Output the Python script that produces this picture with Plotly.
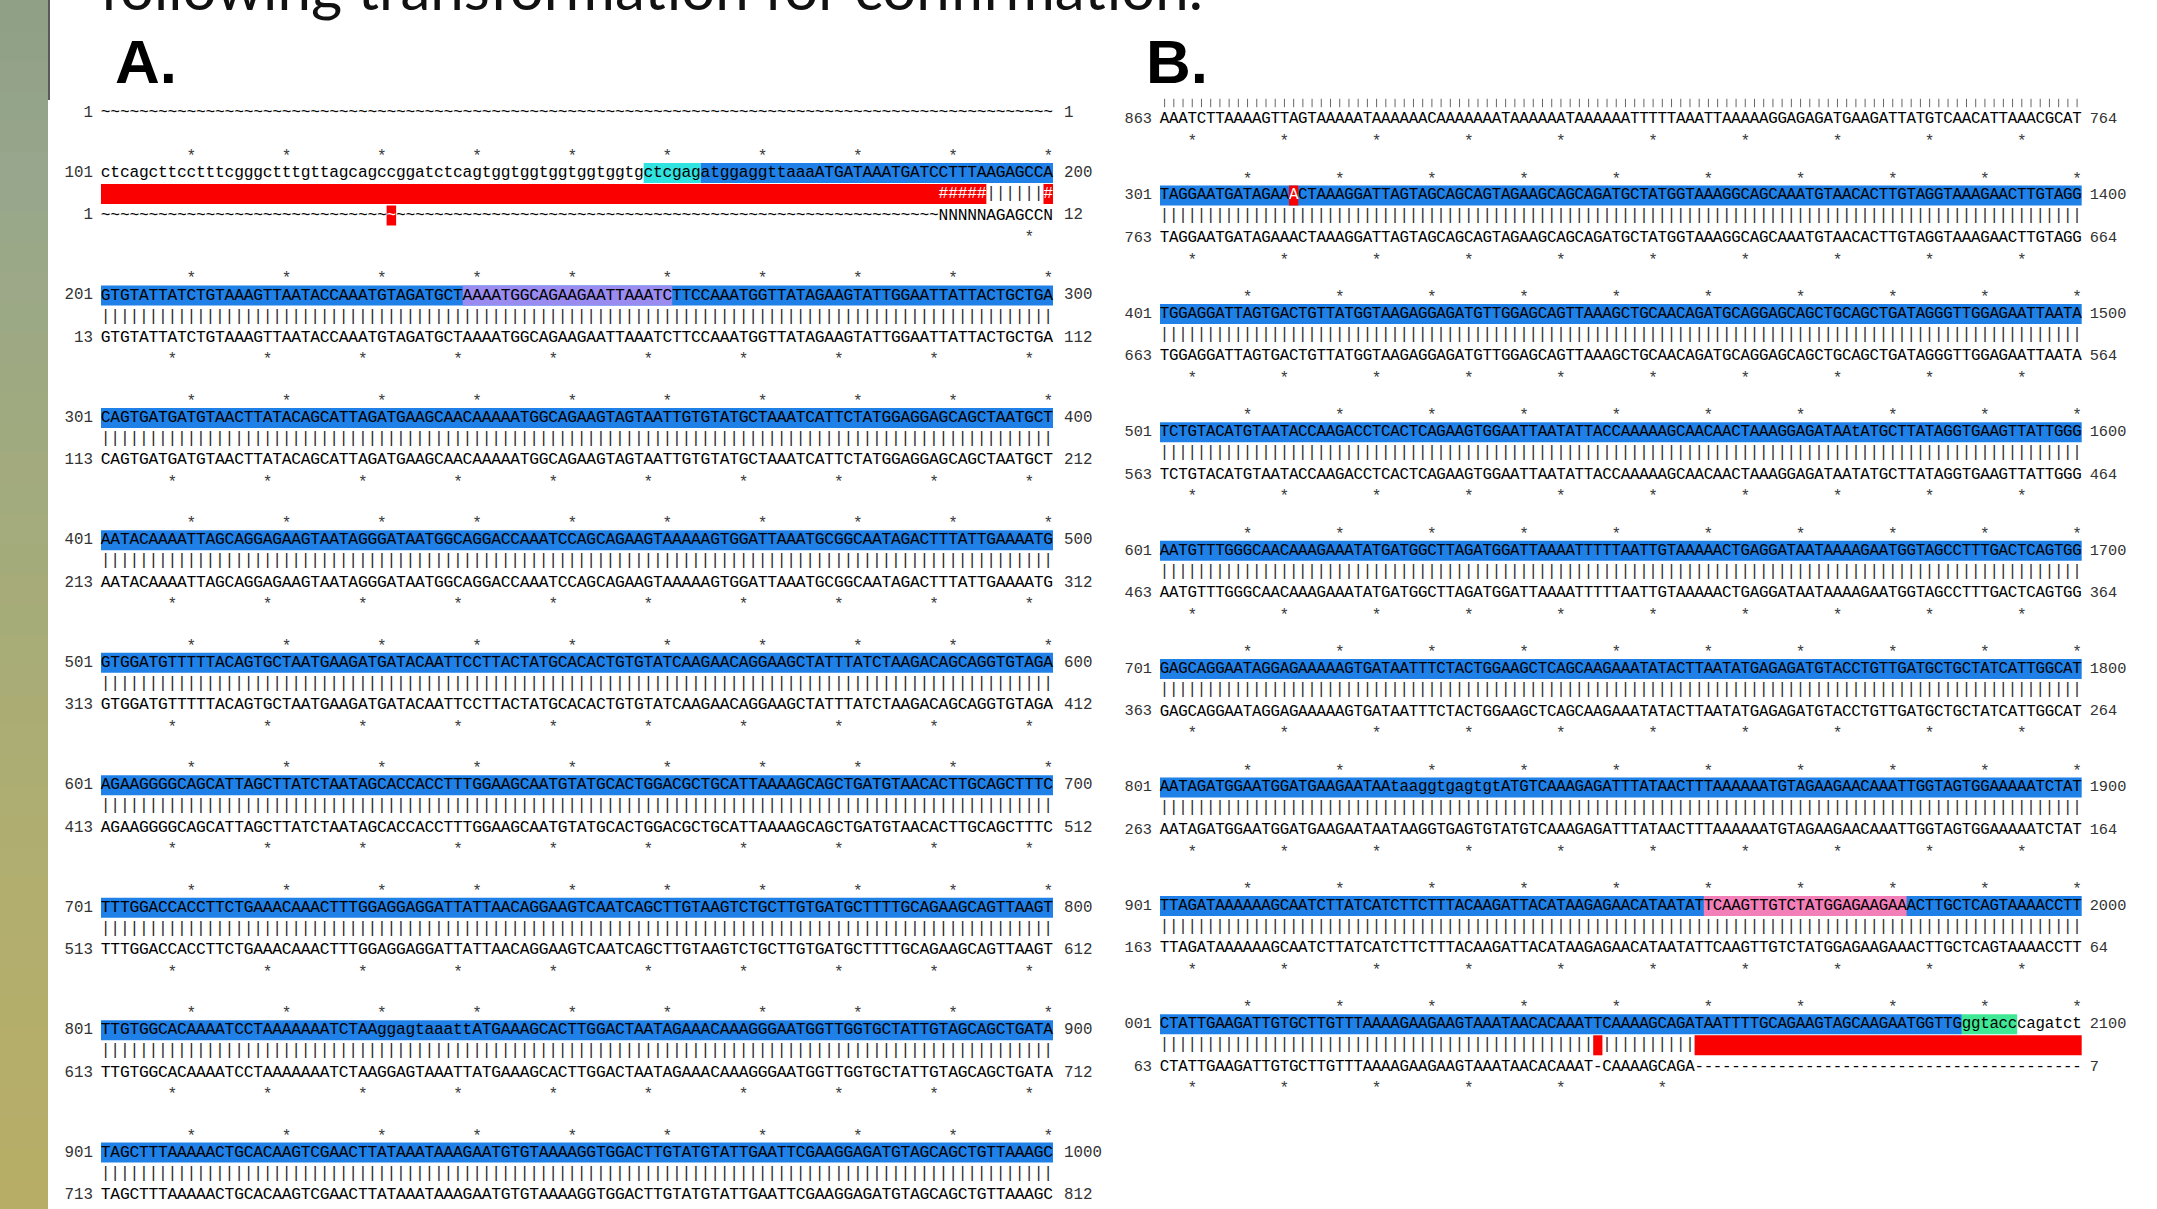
import plotly.graph_objects as go

W, H = 2157, 1209

# ====================== DATA ======================
# ---- Panel A ----
A_TOP_LABEL = ["1", "101", "201", "301", "401", "501", "601", "701", "801", "901"]
A_TOP_END = ["1", "200", "300", "400", "500", "600", "700", "800", "900", "1000"]
A_TOP_START = [1, 101, 201, 301, 401, 501, 601, 701, 801, 901]
A_TOP_SEQ = [
    "~" * 100,
    "ctcagcttcctttcgggctttgttagcagccggatctcagtggtggtggtggtggtgctcgagatggaggttaaaATGATAAATGATCCTTTAAGAGCCA",
    "GTGTATTATCTGTAAAGTTAATACCAAATGTAGATGCTAAAATGGCAGAAGAATTAAATCTTCCAAATGGTTATAGAAGTATTGGAATTATTACTGCTGA",
    "CAGTGATGATGTAACTTATACAGCATTAGATGAAGCAACAAAAATGGCAGAAGTAGTAATTGTGTATGCTAAATCATTCTATGGAGGAGCAGCTAATGCT",
    "AATACAAAATTAGCAGGAGAAGTAATAGGGATAATGGCAGGACCAAATCCAGCAGAAGTAAAAAGTGGATTAAATGCGGCAATAGACTTTATTGAAAATG",
    "GTGGATGTTTTTACAGTGCTAATGAAGATGATACAATTCCTTACTATGCACACTGTGTATCAAGAACAGGAAGCTATTTATCTAAGACAGCAGGTGTAGA",
    "AGAAGGGGCAGCATTAGCTTATCTAATAGCACCACCTTTGGAAGCAATGTATGCACTGGACGCTGCATTAAAAGCAGCTGATGTAACACTTGCAGCTTTC",
    "TTTGGACCACCTTCTGAAACAAACTTTGGAGGAGGATTATTAACAGGAAGTCAATCAGCTTGTAAGTCTGCTTGTGATGCTTTTGCAGAAGCAGTTAAGT",
    "TTGTGGCACAAAATCCTAAAAAAATCTAAggagtaaattATGAAAGCACTTGGACTAATAGAAACAAAGGGAATGGTTGGTGCTATTGTAGCAGCTGATA",
    "TAGCTTTAAAAACTGCACAAGTCGAACTTATAAATAAAGAATGTGTAAAAGGTGGACTTGTATGTATTGAATTCGAAGGAGATGTAGCAGCTGTTAAAGC",
]
A_BOT_LABEL = [None, "1", "13", "113", "213", "313", "413", "513", "613", "713"]
A_BOT_END = [None, "12", "112", "212", "312", "412", "512", "612", "712", "812"]
A_BOT_START = [None, 1, 13, 113, 213, 313, 413, 513, 613, 713]
A_BOT_SEQ = [
    None,
    "~" * 88 + "NNNNNAGAGCCN",
    "GTGTATTATCTGTAAAGTTAATACCAAATGTAGATGCTAAAATGGCAGAAGAATTAAATCTTCCAAATGGTTATAGAAGTATTGGAATTATTACTGCTGA",
    "CAGTGATGATGTAACTTATACAGCATTAGATGAAGCAACAAAAATGGCAGAAGTAGTAATTGTGTATGCTAAATCATTCTATGGAGGAGCAGCTAATGCT",
    "AATACAAAATTAGCAGGAGAAGTAATAGGGATAATGGCAGGACCAAATCCAGCAGAAGTAAAAAGTGGATTAAATGCGGCAATAGACTTTATTGAAAATG",
    "GTGGATGTTTTTACAGTGCTAATGAAGATGATACAATTCCTTACTATGCACACTGTGTATCAAGAACAGGAAGCTATTTATCTAAGACAGCAGGTGTAGA",
    "AGAAGGGGCAGCATTAGCTTATCTAATAGCACCACCTTTGGAAGCAATGTATGCACTGGACGCTGCATTAAAAGCAGCTGATGTAACACTTGCAGCTTTC",
    "TTTGGACCACCTTCTGAAACAAACTTTGGAGGAGGATTATTAACAGGAAGTCAATCAGCTTGTAAGTCTGCTTGTGATGCTTTTGCAGAAGCAGTTAAGT",
    "TTGTGGCACAAAATCCTAAAAAAATCTAAGGAGTAAATTATGAAAGCACTTGGACTAATAGAAACAAAGGGAATGGTTGGTGCTATTGTAGCAGCTGATA",
    "TAGCTTTAAAAACTGCACAAGTCGAACTTATAAATAAAGAATGTGTAAAAGGTGGACTTGTATGTATTGAATTCGAAGGAGATGTAGCAGCTGTTAAAGC",
]
A_BOT_STEP = 1
# highlights: (block, first col, last col, colour key)
A_HIGHLIGHTS = [
    (1, 57, 62, "cyan"), (1, 63, 99, "blue"),
    (2, 0, 99, "blue"), (2, 38, 59, "lavender"),
    (3, 0, 99, "blue"), (4, 0, 99, "blue"), (5, 0, 99, "blue"),
    (6, 0, 99, "blue"), (7, 0, 99, "blue"), (8, 0, 99, "blue"), (9, 0, 99, "blue"),
]
A_TOP_MARKS = []
A_BOT_MARKS = [(1, 30)]

# ---- Panel B ----
B_PRE_LABEL, B_PRE_END, B_PRE_START = "863", "764", 863
B_PRE_SEQ = "AAATCTTAAAAGTTAGTAAAAATAAAAAACAAAAAAATAAAAAATAAAAAATTTTTAAATTAAAAAGGAGAGATGAAGATTATGTCAACATTAAACGCAT"
B_TOP_LABEL = ["301", "401", "501", "601", "701", "801", "901", "001"]
B_TOP_END = ["1400", "1500", "1600", "1700", "1800", "1900", "2000", "2100"]
B_TOP_START = [1301, 1401, 1501, 1601, 1701, 1801, 1901, 2001]
B_TOP_SEQ = [
    "TAGGAATGATAGAAACTAAAGGATTAGTAGCAGCAGTAGAAGCAGCAGATGCTATGGTAAAGGCAGCAAATGTAACACTTGTAGGTAAAGAACTTGTAGG",
    "TGGAGGATTAGTGACTGTTATGGTAAGAGGAGATGTTGGAGCAGTTAAAGCTGCAACAGATGCAGGAGCAGCTGCAGCTGATAGGGTTGGAGAATTAATA",
    "TCTGTACATGTAATACCAAGACCTCACTCAGAAGTGGAATTAATATTACCAAAAAGCAACAACTAAAGGAGATAAtATGCTTATAGGTGAAGTTATTGGG",
    "AATGTTTGGGCAACAAAGAAATATGATGGCTTAGATGGATTAAAATTTTTAATTGTAAAAACTGAGGATAATAAAAGAATGGTAGCCTTTGACTCAGTGG",
    "GAGCAGGAATAGGAGAAAAAGTGATAATTTCTACTGGAAGCTCAGCAAGAAATATACTTAATATGAGAGATGTACCTGTTGATGCTGCTATCATTGGCAT",
    "AATAGATGGAATGGATGAAGAATAAtaaggtgagtgtATGTCAAAGAGATTTATAACTTTAAAAAATGTAGAAGAACAAATTGGTAGTGGAAAAATCTAT",
    "TTAGATAAAAAAGCAATCTTATCATCTTCTTTACAAGATTACATAAGAGAACATAATATTCAAGTTGTCTATGGAGAAGAAACTTGCTCAGTAAAACCTT",
    "CTATTGAAGATTGTGCTTGTTTAAAAGAAGAAGTAAATAACACAAATTCAAAAGCAGATAATTTTGCAGAAGTAGCAAGAATGGTTGggtacccagatct",
]
B_BOT_LABEL = ["763", "663", "563", "463", "363", "263", "163", "63"]
B_BOT_END = ["664", "564", "464", "364", "264", "164", "64", "7"]
B_BOT_START = [763, 663, 563, 463, 363, 263, 163, 63]
B_BOT_SEQ = [
    "TAGGAATGATAGAAACTAAAGGATTAGTAGCAGCAGTAGAAGCAGCAGATGCTATGGTAAAGGCAGCAAATGTAACACTTGTAGGTAAAGAACTTGTAGG",
    "TGGAGGATTAGTGACTGTTATGGTAAGAGGAGATGTTGGAGCAGTTAAAGCTGCAACAGATGCAGGAGCAGCTGCAGCTGATAGGGTTGGAGAATTAATA",
    "TCTGTACATGTAATACCAAGACCTCACTCAGAAGTGGAATTAATATTACCAAAAAGCAACAACTAAAGGAGATAATATGCTTATAGGTGAAGTTATTGGG",
    "AATGTTTGGGCAACAAAGAAATATGATGGCTTAGATGGATTAAAATTTTTAATTGTAAAAACTGAGGATAATAAAAGAATGGTAGCCTTTGACTCAGTGG",
    "GAGCAGGAATAGGAGAAAAAGTGATAATTTCTACTGGAAGCTCAGCAAGAAATATACTTAATATGAGAGATGTACCTGTTGATGCTGCTATCATTGGCAT",
    "AATAGATGGAATGGATGAAGAATAATAAGGTGAGTGTATGTCAAAGAGATTTATAACTTTAAAAAATGTAGAAGAACAAATTGGTAGTGGAAAAATCTAT",
    "TTAGATAAAAAAGCAATCTTATCATCTTCTTTACAAGATTACATAAGAGAACATAATATTCAAGTTGTCTATGGAGAAGAAACTTGCTCAGTAAAACCTT",
    "CTATTGAAGATTGTGCTTGTTTAAAAGAAGAAGTAAATAACACAAAT-CAAAAGCAGA" + "-" * 42,
]
B_BOT_STEP = -1
B_HIGHLIGHTS = [
    (0, 0, 99, "blue"), (1, 0, 99, "blue"), (2, 0, 99, "blue"), (3, 0, 99, "blue"),
    (4, 0, 99, "blue"), (5, 0, 99, "blue"), (6, 0, 99, "blue"), (6, 59, 80, "pink"),
    (7, 0, 86, "blue"), (7, 87, 92, "green"),
]
B_TOP_MARKS = [(0, 14)]
B_BOT_MARKS = []

# ====================== STYLE / LAYOUT ======================
COLORS = {"blue": "#1f80e8", "cyan": "#30e3e0", "lavender": "#9a8bf0",
          "pink": "#f27fb8", "green": "#3fe894", "red": "#fa0000"}
MONO = "Liberation Mono"
GAPS = "~-"

A_X0, A_X1 = 101.0, 1053.0
B_X0, B_X1 = 1160.0, 2081.7
A_Y = [113.0] + [173.0 + 122.45 * k for k in range(9)]
B_PRE_Y = 119.0
B_Y = [195.5 + 118.4 * k for k in range(8)]
OFF_STAR_TOP, OFF_PIPE, OFF_BOT, OFF_STAR_BOT = -22.0, 21.0, 42.5, 59.0
HALF = 10.0
PADC = 5.5  # extra columns on each side of the axis range (room for the position numbers)

fig = go.Figure()
shapes = []


def star_cols(seq, start, step):
    out, n = [], start
    for i, ch in enumerate(seq):
        if ch in GAPS:
            continue
        if n % 10 == 0:
            out.append(i)
        n += step
    return out


def rect(xa, c0, c1, yc, color):
    shapes.append(dict(type="rect", xref=xa, yref="y", x0=c0 - 0.5, x1=c1 + 0.5,
                       y0=yc - HALF, y1=yc + HALF, fillcolor=color,
                       line=dict(width=0), layer="below"))


def build_panel(xa, x0px, x1px, fs, ys, top_label, top_end, top_start, top_seq,
                bot_label, bot_end, bot_start, bot_seq, bot_step,
                highlights, top_marks, bot_marks, gap_r, pre=None):
    cw = (x1px - x0px) / 100.0
    seq_x, seq_y, seq_t, seq_c = [], [], [], []
    pip_x, pip_y, pip_t, pip_c = [], [], [], []
    st_x, st_y = [], []
    ll_x, ll_y, ll_t, rl_x, rl_y, rl_t = [], [], [], [], [], []
    lx = -0.5 - 8.0 / cw
    rx = 99.5 + gap_r / cw

    for (b, c0, c1, key) in highlights:
        rect(xa, c0, c1, ys[b], COLORS[key])

    def add_row(seq, yc, label, end, marks_cols):
        for i, ch in enumerate(seq):
            seq_x.append(i)
            seq_y.append(yc)
            seq_t.append(ch)
            seq_c.append("#ffffff" if i in marks_cols else "#000000")
        for i in marks_cols:
            rect(xa, i, i, yc, COLORS["red"])
        ll_x.append(lx); ll_y.append(yc); ll_t.append(label)
        rl_x.append(rx); rl_y.append(yc); rl_t.append(end)

    if pre is not None:
        p_label, p_end, p_start, p_seq, p_y = pre
        add_row(p_seq, p_y, p_label, p_end, [])
        for i in star_cols(p_seq, p_start, bot_step):
            st_x.append(i); st_y.append(p_y + OFF_STAR_BOT - OFF_BOT)
        # cropped match row of the previous block
        fig.add_trace(go.Scatter(x=list(range(100)), y=[p_y - 16] * 100, mode="markers",
                                 marker=dict(symbol="line-ns", size=6,
                                             line=dict(width=1, color="#666666")),
                                 xaxis=xa, yaxis="y", hoverinfo="skip", cliponaxis=False))

    for k in range(len(top_seq)):
        yt = ys[k]
        tmarks = [c for (b, c) in top_marks if b == k]
        add_row(top_seq[k], yt, top_label[k], top_end[k], tmarks)
        for i in star_cols(top_seq[k], top_start[k], 1):
            st_x.append(i); st_y.append(yt + OFF_STAR_TOP)
        if bot_seq[k] is None:
            continue
        yb = yt + OFF_BOT
        bmarks = [c for (b, c) in bot_marks if b == k]
        add_row(bot_seq[k], yb, bot_label[k], bot_end[k], bmarks)
        for i in star_cols(bot_seq[k], bot_start[k], bot_step):
            st_x.append(i); st_y.append(yt + OFF_STAR_BOT)
        # match row
        yp = yt + OFF_PIPE
        red = []
        for i, (a, c) in enumerate(zip(top_seq[k], bot_seq[k])):
            if a in GAPS or c in GAPS:
                red.append(i)
            elif a.upper() == c.upper():
                pip_x.append(i); pip_y.append(yp); pip_t.append("|"); pip_c.append("#2a2a2a")
            else:
                red.append(i)
                pip_x.append(i); pip_y.append(yp); pip_t.append("#"); pip_c.append("#ffffff")
        run = []
        for i in red + [None]:
            if run and (i is None or i != run[-1] + 1):
                rect(xa, run[0], run[-1], yp, COLORS["red"])
                run = []
            if i is not None:
                run.append(i)

    common = dict(xaxis=xa, yaxis="y", hoverinfo="skip", cliponaxis=False, mode="text")
    fig.add_trace(go.Scatter(x=seq_x, y=seq_y, text=seq_t, textposition="middle center",
                             textfont=dict(family=MONO, size=fs, color=seq_c), **common))
    fig.add_trace(go.Scatter(x=pip_x, y=pip_y, text=pip_t, textposition="middle center",
                             textfont=dict(family=MONO, size=fs, color=pip_c), **common))
    fig.add_trace(go.Scatter(x=st_x, y=[v + 6 for v in st_y], text=["*"] * len(st_x),
                             textposition="middle center",
                             textfont=dict(family=MONO, size=16, color="#3a3a3a"), **common))
    fig.add_trace(go.Scatter(x=ll_x, y=ll_y, text=ll_t, textposition="middle left",
                             textfont=dict(family=MONO, size=fs - 0.5, color="#333333"), **common))
    fig.add_trace(go.Scatter(x=rl_x, y=rl_y, text=rl_t, textposition="middle right",
                             textfont=dict(family=MONO, size=fs - 0.5, color="#333333"), **common))
    # axis: range widened by PADC columns each side, domain widened by the same amount
    return dict(domain=[(x0px - PADC * cw) / W, (x1px + PADC * cw) / W],
                range=[-0.5 - PADC, 99.5 + PADC], visible=False, fixedrange=True, anchor="y")


xa1 = build_panel("x", A_X0, A_X1, 16.3, A_Y, A_TOP_LABEL, A_TOP_END, A_TOP_START, A_TOP_SEQ,
                  A_BOT_LABEL, A_BOT_END, A_BOT_START, A_BOT_SEQ, A_BOT_STEP,
                  A_HIGHLIGHTS, A_TOP_MARKS, A_BOT_MARKS, gap_r=11.0)
xa2 = build_panel("x2", B_X0, B_X1, 15.8, B_Y, B_TOP_LABEL, B_TOP_END, B_TOP_START, B_TOP_SEQ,
                  B_BOT_LABEL, B_BOT_END, B_BOT_START, B_BOT_SEQ, B_BOT_STEP,
                  B_HIGHLIGHTS, B_TOP_MARKS, B_BOT_MARKS, gap_r=8.0,
                  pre=(B_PRE_LABEL, B_PRE_END, B_PRE_START, B_PRE_SEQ, B_PRE_Y))

# ---- left decorative strip (gradient bands) ----
STRIP_STOPS = [(0.0, (143, 159, 134)), (0.15, (152, 167, 140)), (0.35, (160, 170, 128)),
               (0.55, (168, 172, 118)), (0.75, (178, 174, 110)), (1.0, (183, 173, 102))]
NB = 40
for j in range(NB):
    f = (j + 0.5) / NB
    for (a, ca), (b, cb) in zip(STRIP_STOPS[:-1], STRIP_STOPS[1:]):
        if a <= f <= b:
            t = (f - a) / (b - a)
            col = tuple(int(round(ca[m] + (cb[m] - ca[m]) * t)) for m in range(3))
            break
    shapes.append(dict(type="rect", xref="paper", yref="paper", x0=0, x1=48 / W,
                       y0=1 - (j + 1) / NB - 0.001, y1=1 - j / NB,
                       fillcolor="rgb(%d,%d,%d)" % col, line=dict(width=0), layer="below"))
shapes.append(dict(type="line", xref="paper", yref="paper", x0=49 / W, x1=49 / W,
                   y0=1 - 100 / H, y1=1, line=dict(color="#5a5a5a", width=2)))

annotations = [
    dict(text="following transformation for confirmation.", xref="paper", yref="paper",
         x=98 / W, y=1 + 13 / H, xanchor="left", yanchor="middle", showarrow=False,
         font=dict(family="Lato", size=60, color="#111111")),
    dict(text="<b>A.</b>", xref="paper", yref="paper", x=113 / W, y=1 - 61 / H,
         xanchor="left", yanchor="middle", showarrow=False,
         font=dict(family="Liberation Sans", size=62, color="#000000")),
    dict(text="<b>B.</b>", xref="paper", yref="paper", x=1144 / W, y=1 - 61 / H,
         xanchor="left", yanchor="middle", showarrow=False,
         font=dict(family="Liberation Sans", size=62, color="#000000")),
]

fig.update_layout(
    width=W, height=H, autosize=False,
    margin=dict(l=0, r=0, t=0, b=0, pad=0),
    paper_bgcolor="#ffffff", plot_bgcolor="rgba(0,0,0,0)",
    showlegend=False,
    xaxis=xa1,
    xaxis2=xa2,
    yaxis=dict(domain=[0, 1], range=[H, 0], visible=False, fixedrange=True, anchor="x"),
    shapes=shapes,
    annotations=annotations,
)

fig.write_html("out.html", config={"displayModeBar": False},
               post_script="document.body.style.margin='0';document.body.style.overflow='hidden';")
